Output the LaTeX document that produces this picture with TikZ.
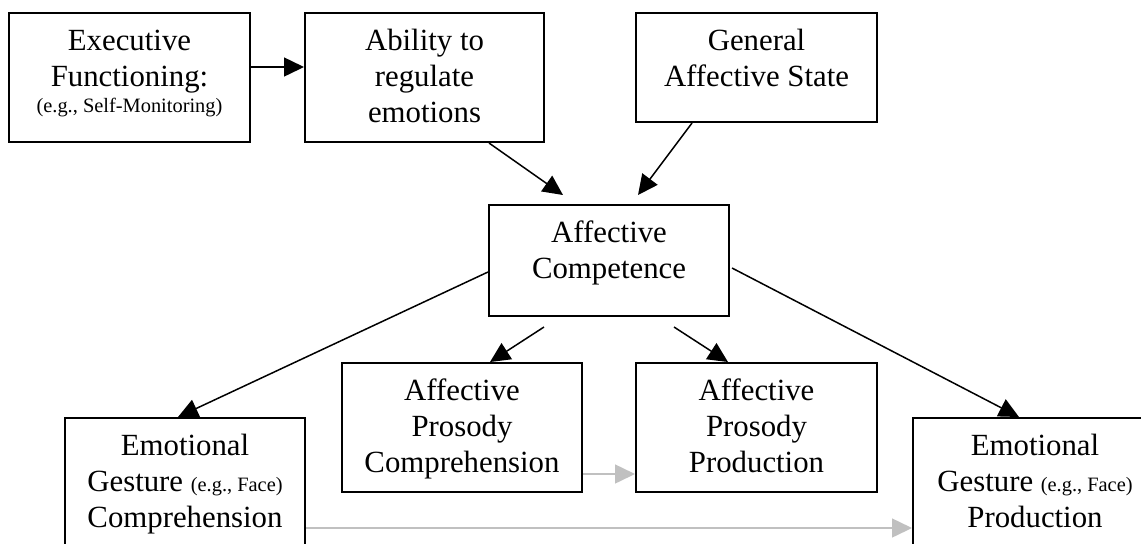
\documentclass[tikz,border=0pt]{standalone}
\usepackage{fontspec}
\setmainfont{Liberation Serif}
\usetikzlibrary{calc,arrows.meta}
\definecolor{lightgrayarrow}{HTML}{C0C0C0}
\newcommand\smalltxt{\fontsize{10.2}{12}\selectfont}
\tikzset{
  box/.style={draw, line width=1pt, inner sep=0pt, anchor=north west},
  txt/.style={font=\fontsize{15.4}{18}\selectfont, align=center, inner sep=0pt, anchor=north},
  arr/.style={line width=0.75pt, -{Triangle[length=10pt,width=9.5pt]}},
  garr/.style={arr, draw=lightgrayarrow, -{Triangle[length=10pt,width=9.5pt,fill=lightgrayarrow]}}
}
\begin{document}
\begin{tikzpicture}[x=0.5pt,y=-0.5pt]
\useasboundingbox (0,0) rectangle (1141,543);
\clip (0,0) rectangle (1141,543);
% boxes
\node[box, minimum width=120.5pt, minimum height=64.5pt] (exec) at (8,12) {};
\node[box, minimum width=119.5pt, minimum height=64.5pt] (abil) at (304,12) {};
\node[box, minimum width=120.5pt, minimum height=54.5pt] (gen) at (635,12) {};
\node[box, minimum width=120pt, minimum height=55.5pt] (comp) at (488,204) {};
\node[box, minimum width=120pt, minimum height=64.5pt] (pcomp) at (341,362) {};
\node[box, minimum width=120.5pt, minimum height=64.5pt] (pprod) at (635,362) {};
\node[box, minimum width=120pt, minimum height=75pt] (ecomp) at (64,417) {};
\node[box, minimum width=122pt, minimum height=75pt] (eprod) at (912,417) {};
% texts
\node[txt] (execT) at ($(exec.north)+(0,12.5)$) {\strut Executive\\Functioning:\\[-5pt]{\smalltxt (e.g., Self-Monitoring)}};
\node[txt] (abilT) at ($(abil.north)+(0,12.5)$) {\strut Ability to\\regulate\\emotions};
\node[txt] (genT) at ($(gen.north)+(0,12.5)$) {\strut General\\Affective State};
\node[txt] (compT) at ($(comp.north)+(0,12.5)$) {\strut Affective\\Competence};
\node[txt] (pcompT) at ($(pcomp.north)+(0,12.5)$) {\strut Affective\\Prosody\\Comprehension};
\node[txt] (pprodT) at ($(pprod.north)+(0,12.5)$) {\strut Affective\\Prosody\\Production};
\node[txt] (ecompT) at ($(ecomp.north)+(0,12.5)$) {\strut Emotional\\Gesture {\smalltxt (e.g., Face)}\\Comprehension};
\node[txt] (eprodT) at ($(eprod.north)+(0,12.5)$) {\strut Emotional\\Gesture {\smalltxt (e.g., Face)}\\Production};
% connectors
\draw[arr] ($(exec.north east)+(0,55)$) -- ($(abil.north west)+(0,55)$);
\draw[arr] ($(abil.south)+(64.5,0)$) -- ($(comp.north)+(-46,-9)$);
\draw[arr] ($(gen.south)+(-64.5,0)$) -- ($(comp.north)+(29,-9)$);
\draw[arr] ($(comp.south)+(-65,10)$) -- ($(pcomp.north)+(28,0)$);
\draw[arr] ($(comp.south)+(65,10)$) -- ($(pprod.north)+(-28.5,0)$);
\draw[arr] ($(comp.west)+(0,11.5)$) -- ($(ecomp.north)+(-7,0)$);
\draw[arr] ($(comp.east)+(2,7.5)$) -- ($(eprod.north)+(-16,0)$);
\draw[garr] ($(pcomp.south east)+(0,-19)$) -- ($(pprod.south west)+(0,-19)$);
\draw[garr] ($(ecomp.north east)+(0,111)$) -- ($(eprod.north west)+(0,111)$);
\end{tikzpicture}
\end{document}
